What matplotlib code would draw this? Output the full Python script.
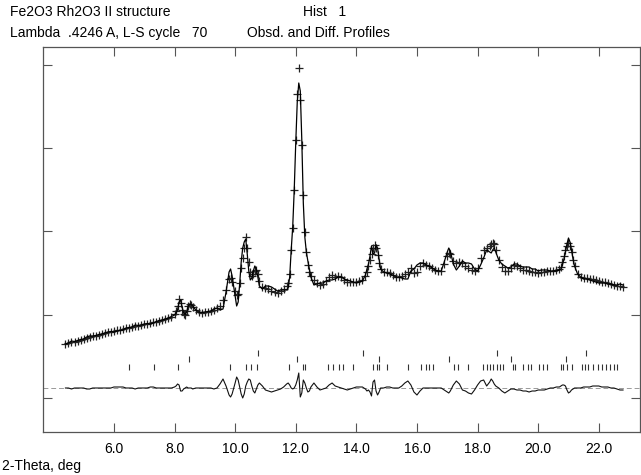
import numpy as np
import matplotlib.pyplot as plt

plt.rcParams['font.family'] = ['Liberation Sans', 'DejaVu Sans']

# 2-theta grid (deg)
tth = [4.4, 4.5, 4.6, 4.7, 4.8, 4.9, 5.0, 5.1, 5.2, 5.3,
       5.4, 5.5, 5.6, 5.7, 5.8, 5.9, 6.0, 6.1, 6.2, 6.3,
       6.4, 6.5, 6.6, 6.7, 6.8, 6.9, 7.0, 7.1, 7.2, 7.3,
       7.4, 7.5, 7.6, 7.7, 7.8, 7.9, 8.0, 8.05, 8.1, 8.15,
       8.2, 8.25, 8.3, 8.35, 8.4, 8.45, 8.5, 8.55, 8.6, 8.7,
       8.8, 8.9, 9.0, 9.1, 9.2, 9.3, 9.4, 9.5, 9.6, 9.7,
       9.8, 9.85, 9.9, 10.0, 10.05, 10.1, 10.15, 10.2, 10.25, 10.3,
       10.35, 10.4, 10.45, 10.5, 10.55, 10.6, 10.65, 10.7, 10.75, 10.8,
       10.9, 11.0, 11.1, 11.2, 11.3, 11.4, 11.5, 11.6, 11.7, 11.75,
       11.8, 11.85, 11.9, 11.95, 12.0, 12.05, 12.1, 12.15, 12.2, 12.25,
       12.3, 12.35, 12.4, 12.45, 12.5, 12.6, 12.7, 12.8, 12.9, 13.0,
       13.1, 13.2, 13.3, 13.4, 13.5, 13.6, 13.7, 13.8, 13.9, 14.0,
       14.1, 14.2, 14.3, 14.35, 14.4, 14.45, 14.5, 14.55, 14.6, 14.65,
       14.7, 14.75, 14.8, 14.9, 15.0, 15.1, 15.2, 15.3, 15.4, 15.5,
       15.6, 15.7, 15.8, 15.9, 16.0, 16.1, 16.2, 16.3, 16.4, 16.5,
       16.6, 16.7, 16.8, 16.9, 17.0, 17.05, 17.1, 17.2, 17.3, 17.4,
       17.5, 17.6, 17.7, 17.8, 17.9, 18.0, 18.1, 18.2, 18.3, 18.4,
       18.45, 18.5, 18.55, 18.6, 18.7, 18.8, 18.9, 19.0, 19.1, 19.2,
       19.3, 19.4, 19.5, 19.6, 19.7, 19.8, 19.9, 20.0, 20.1, 20.2,
       20.3, 20.4, 20.5, 20.6, 20.7, 20.75, 20.8, 20.85, 20.9, 20.95,
       21.0, 21.05, 21.1, 21.15, 21.2, 21.3, 21.4, 21.5, 21.6, 21.7,
       21.8, 21.9, 22.0, 22.1, 22.2, 22.3, 22.4, 22.5, 22.6, 22.7,
       22.8]

# observed intensity
obs = [648, 660, 672, 678, 690, 702, 708, 720, 732, 744,
       750, 762, 768, 780, 792, 798, 804, 816, 822, 828,
       840, 846, 852, 864, 870, 876, 888, 894, 900, 912,
       918, 930, 936, 948, 960, 978, 1008, 1044, 1104, 1188,
       1140, 1056, 1008, 1002, 1044, 1104, 1128, 1122, 1092, 1056,
       1032, 1026, 1032, 1038, 1044, 1056, 1080, 1104, 1176, 1296,
       1428, 1440, 1392, 1284, 1236, 1248, 1380, 1560, 1680, 1800,
       1932, 1800, 1632, 1512, 1464, 1488, 1524, 1536, 1488, 1404,
       1332, 1320, 1308, 1284, 1272, 1260, 1284, 1308, 1344, 1380,
       1488, 1776, 2040, 2496, 3096, 3648, 3960, 3576, 3036, 2436,
       1992, 1752, 1596, 1512, 1464, 1416, 1380, 1356, 1368, 1404,
       1452, 1476, 1452, 1464, 1452, 1416, 1392, 1392, 1392, 1392,
       1404, 1416, 1464, 1512, 1584, 1656, 1728, 1800, 1836, 1800,
       1716, 1620, 1548, 1512, 1512, 1500, 1476, 1452, 1452, 1464,
       1488, 1512, 1560, 1500, 1512, 1584, 1620, 1596, 1584, 1560,
       1536, 1524, 1524, 1608, 1704, 1740, 1728, 1644, 1620, 1632,
       1620, 1584, 1560, 1536, 1524, 1560, 1680, 1776, 1800, 1824,
       1848, 1860, 1848, 1776, 1656, 1572, 1524, 1524, 1560, 1596,
       1584, 1560, 1536, 1536, 1524, 1512, 1512, 1500, 1512, 1512,
       1524, 1524, 1524, 1536, 1548, 1572, 1632, 1704, 1776, 1824,
       1860, 1824, 1752, 1656, 1584, 1488, 1452, 1440, 1440, 1428,
       1428, 1416, 1404, 1392, 1392, 1380, 1368, 1356, 1344, 1344,
       1332]

# obs - calc
diff = [0, 0, -12, 0, 0, 0, 0, -12, -12, 0,
        0, 0, 0, 0, 0, 0, 12, 12, 12, 12,
        0, 0, 0, -12, 0, 0, 0, 0, 12, 12,
        0, 0, 0, 0, 0, 0, 12, 24, 48, 36,
        -36, -36, -12, 0, 12, 0, 0, 0, -12, 0,
        0, 0, 0, 0, 0, -12, 0, 48, 108, 24,
        -84, -108, -72, 60, 132, 96, 12, -72, -120, -72,
        24, 72, 108, 96, 24, -36, -60, -12, 36, 60,
        24, -24, -36, -48, -36, -24, -12, 12, 48, 60,
        36, 0, -12, 0, 36, 96, 180, -108, -60, 96,
        60, 0, -48, -36, 12, 60, 12, -24, -12, 0,
        36, 60, 24, 12, 0, -12, -24, -12, 0, 12,
        12, 12, -12, -36, -24, -48, -96, 72, 96, -36,
        -84, -48, 0, 0, 12, 12, 0, 0, 0, 24,
        60, 84, 36, -48, -84, -36, 0, 0, 0, 0,
        0, 0, 0, -24, -48, -60, -36, 36, 84, 48,
        -24, -36, -60, -72, -24, 36, 84, 96, 24, 72,
        108, 84, 48, 24, 0, -36, -60, -36, -12, -12,
        -24, -24, -36, -36, -48, -36, -36, -24, -24, -24,
        -12, 0, 0, 12, 12, 24, 36, 36, 24, -24,
        -60, -48, -24, -12, 0, 0, 0, 12, 12, 12,
        24, 24, 24, 12, 12, 12, 0, 0, -12, -24,
        -24]

# reflection positions, three rows
refl_top = [10.75, 14.22, 18.64, 21.58]
refl_mid = [8.48, 12.04, 14.75, 17.06, 19.10, 20.92]
refl_bot = [6.50, 7.32, 8.11, 9.83, 10.36, 10.52, 10.72, 11.78, 12.24, 12.30,
            13.05, 13.22, 13.42, 13.56, 13.89, 14.55, 14.68, 14.75, 15.01, 15.70,
            16.13, 16.30, 16.40, 16.53, 17.22, 17.35, 17.68, 18.18, 18.31, 18.41,
            18.51, 18.64, 18.74, 18.84, 19.17, 19.23, 19.50, 19.66, 19.76, 20.03,
            20.16, 20.29, 20.75, 20.82, 20.95, 21.12, 21.45, 21.54, 21.64, 21.81,
            21.97, 22.11, 22.24, 22.37, 22.50, 22.60]

xticks = [6.0, 8.0, 10.0, 12.0, 14.0, 16.0, 18.0, 20.0, 22.0]

tth = np.array(tth)
obs = np.array(obs, dtype=float)
diff = np.array(diff, dtype=float)
calc = obs - diff
diff_offset = 120

W, H = 641, 475
fig = plt.figure(figsize=(W / 100, H / 100), dpi=100)
ax = fig.add_axes([43 / W, 1 - 432 / H, (640 - 43) / W, (432 - 47) / H])

ink = '#222222'
ax.plot(tth, obs, linestyle='none', marker='+', markersize=6,
        markeredgewidth=0.9, color=ink)
ax.plot(tth, calc, color='black', linewidth=0.9)

ax.axhline(diff_offset, color='#999999', linewidth=0.7, linestyle=(0, (5, 3)))
ax.plot(tth, diff + diff_offset, color='#111111', linewidth=0.8)

for pos, yc in [(refl_top, 540), (refl_mid, 468), (refl_bot, 372)]:
    ax.vlines(pos, yc - 40, yc + 40, color='#333333', linewidth=0.8)

ax.set_xlim(3.66, 23.36)
ax.set_ylim(-408, 4212)
ax.set_xticks(xticks)
ax.set_xticklabels(['%.1f' % t for t in xticks])
ax.set_yticks([0, 1000, 2000, 3000, 4000])
ax.set_yticklabels([])
ax.tick_params(direction='in', length=6.5, width=0.8, color='#555555',
               top=True, right=True, labelsize=10, pad=7)
for s in ax.spines.values():
    s.set_color('#555555')
    s.set_linewidth(0.9)

fig.text(10 / W, 1 - 12 / H, 'Fe2O3 Rh2O3 II structure', fontsize=10, va='center')
fig.text(303 / W, 1 - 12 / H, 'Hist   1', fontsize=10, va='center')
fig.text(10 / W, 1 - 33 / H, 'Lambda  .4246 A, L-S cycle   70', fontsize=10, va='center')
fig.text(247 / W, 1 - 33 / H, 'Obsd. and Diff. Profiles', fontsize=10, va='center')
fig.text(2 / W, 1 - 466 / H, '2-Theta, deg', fontsize=10, va='center')

fig.savefig('out.png', dpi=100)
